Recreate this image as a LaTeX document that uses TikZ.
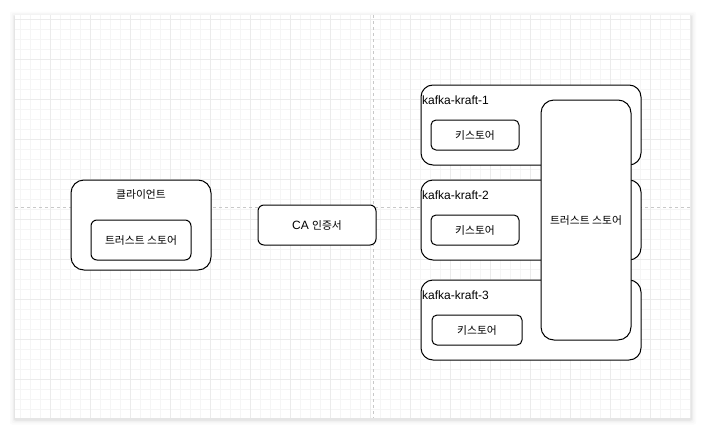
\documentclass[tikz,border=0pt]{standalone}
\usepackage{fontspec}
\setmainfont{Liberation Sans}
\newfontfamily\kr[Scale=0.9]{Noto Sans CJK KR}
\usetikzlibrary{positioning}
\definecolor{Ink}{HTML}{000000}
\definecolor{GridMinor}{HTML}{F5F5F5}
\definecolor{GridMajor}{HTML}{EBEBEB}
\definecolor{Guide}{HTML}{C8C8C8}
\newcommand\txt{\fontsize{12pt}{14pt}\selectfont}
\tikzset{
  box/.style={draw=Ink,line width=1pt,fill=white,text=Ink,inner sep=0pt,font=\txt\kr},
  outerbox/.style={box,rounded corners=12pt,minimum width=220pt,minimum height=80pt},
  storebox/.style={box,rounded corners=5pt,minimum height=30pt},
  ttl/.style={inner sep=0pt,text=Ink}
}
\begin{document}
\begin{tikzpicture}[x=1pt,y=-1pt,font=\txt]
  \useasboundingbox (0,0) rectangle (707,434);
  % page shadow
  \foreach \s/\o in {5/0.015,3.5/0.02,2/0.03,1/0.04}
    \fill[black,opacity=\o,rounded corners=2pt] (15-\s,15-\s+1.5) rectangle (691+\s,418+\s+1.5);
  \fill[white] (15,15) rectangle (691,418);
  % grid
  \foreach \x in {20,30,...,690} \draw[GridMinor,line width=0.7pt] (\x,15) -- (\x,418);
  \foreach \y in {19,29,...,409} \draw[GridMinor,line width=0.7pt] (15,\y) -- (691,\y);
  \foreach \x in {50,90,...,690} \draw[GridMajor,line width=0.7pt] (\x,15) -- (\x,418);
  \foreach \y in {19,59,...,409} \draw[GridMajor,line width=0.7pt] (15,\y) -- (691,\y);
  \draw[Guide,dash pattern=on 3pt off 3pt,line width=0.8pt] (373,15) -- (373,418);
  \draw[Guide,dash pattern=on 3pt off 3pt,line width=0.8pt] (15,207) -- (691,207);

  % client
  \node[box,rounded corners=13pt,minimum width=140pt,minimum height=90pt] (client) at (141,225) {};
  \node[ttl,font=\txt\kr] (clientTitle) at (141,194) {클라이언트};
  \node[storebox,rounded corners=6pt,minimum width=100pt,minimum height=40pt] (clientTrust) at (141,240) {트러스트 스토어};

  % CA
  \node[box,font=\txt,rounded corners=6pt,minimum width=118pt,minimum height=40pt] (ca) at (317,225) {CA {\kr 인증서}};

  % brokers
  \node[outerbox] (kraft1) at (531,125) {};
  \node[ttl,anchor=west] (kraft1Title) at (422,100) {kafka-kraft-1};
  \node[storebox,minimum width=88pt] (keystore1) at (475,135) {키스토어};

  \node[outerbox] (kraft2) at (531,220) {};
  \node[ttl,anchor=west] (kraft2Title) at (422,195) {kafka-kraft-2};
  \node[storebox,minimum width=88pt] (keystore2) at (475,230) {키스토어};

  \node[outerbox] (kraft3) at (531,320) {};
  \node[ttl,anchor=west] (kraft3Title) at (422,295) {kafka-kraft-3};
  \node[storebox,minimum width=90pt] (keystore3) at (477,330) {키스토어};

  \node[box,rounded corners=13pt,minimum width=90pt,minimum height=240pt] (brokerTrust) at (586,220) {트러스트 스토어};
\end{tikzpicture}
\end{document}
